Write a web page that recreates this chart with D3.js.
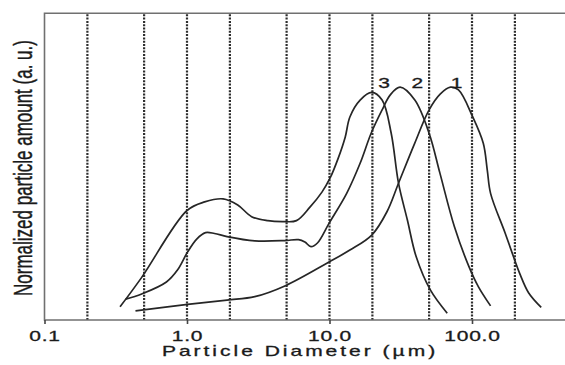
<!DOCTYPE html>
<html>
<head>
<meta charset="utf-8">
<script src="https://cdn.jsdelivr.net/npm/d3@7"></script>
<style>
  body { margin: 0; background: #fff; }
  svg { display: block; font-family: "Liberation Sans", Arial, sans-serif; }
  .lbl { fill: #1a1a1a; stroke: #1a1a1a; stroke-width: 0.3px; }
</style>
</head>
<body>
<svg width="565" height="365"></svg>
<script>
// values: [diameter in µm, normalized amount]
var curve1 = [[0.435,3.0],[1.01,5.1],[1.91,6.5],[2.99,7.6],[4.86,11.1],[9.92,18.9],[13.9,22.8],[19.8,27.7],
    [25.3,35.3],[30.5,44.6],[39.6,57.6],[50.0,68.5],[60.0,73.7],[70.6,75.9],[80.4,75.0],[101,66.3],[120,57.6],
    [128,48.9],[135,41.3],[171,28.3],[197,20.2],[216,15.2],[250,8.8],[306,4.1]];
var curve2 = [[0.371,6.8],[0.481,8.5],[0.717,12.4],[0.857,16.3],[1.01,22.2],[1.17,26.4],[1.35,28.5],[1.56,28.2],
    [1.91,27.2],[2.99,25.8],[4.86,25.9],[6.06,26.2],[6.72,25.4],[7.41,23.9],[8.23,25.1],[9.92,31.5],[13.2,41.3],
    [16.4,51.1],[19.6,60.9],[23.4,68.5],[26.7,73.4],[31.3,75.9],[39.7,71.7],[50.0,60.9],[59.6,47.8],[75.3,30.4],
    [95.2,17.4],[111,10.8],[135,4.6]];
var curve3 = [[0.339,4.3],[0.481,13.9],[1.0,35.7],[1.33,38.5],[1.79,39.5],[2.27,37.5],[2.84,33.7],[3.69,32.4],
    [4.71,32.1],[5.86,32.4],[7.29,36.8],[8.85,41.7],[10.1,46.3],[11.5,52.7],[12.9,59.7],[13.9,66.2],[16.4,71.7],
    [19.8,74.2],[23.4,71.7],[27.1,60.9],[30.5,44.6],[35.2,32.6],[40.6,20.6],[51.0,9.8],[67.0,2.2]];

var curveNames = ["1", "2", "3"];
var labelX = [77.8, 41.3, 24.2];
var labelY = 75.5;

var gridValues = [0.2, 0.5, 1, 2, 5, 10, 20, 50, 100, 200];
var tickValues = [0.1, 1, 10, 100];

var svg = d3.select("svg"),
    plotLeft = 44.5, plotTop = 13.3, plotBottom = 320,
    stretch = 1.5; // the picture is stretched sideways

var x = d3.scaleLog().domain([0.1, 1000]).range([plotLeft, plotLeft + 4 * 142.5]),
    y = d3.scaleLinear().domain([0, 100]).range([plotBottom, plotTop]);

var line = d3.line()
    .curve(d3.curveCatmullRom.alpha(0.5))
    .x(function(d) { return x(d[0]); })
    .y(function(d) { return y(d[1]); });

// dotted grid
svg.append("g")
    .selectAll("line").data(gridValues)
    .enter().append("line")
    .attr("x1", function(d) { return x(d); })
    .attr("x2", function(d) { return x(d); })
    .attr("y1", plotTop + 1)
    .attr("y2", plotBottom)
    .attr("stroke", "#2e2e2e")
    .attr("stroke-width", 2.2)
    .attr("stroke-dasharray", "2,1.3");

// frame (right side runs off the picture)
svg.append("path")
    .attr("d", "M565," + plotTop + "H" + plotLeft + "V" + plotBottom + "H565")
    .attr("fill", "none")
    .attr("stroke", "#707070")
    .attr("stroke-width", 1.6);

var xAxis = svg.append("g")
    .attr("transform", "translate(0," + plotBottom + ")")
    .call(d3.axisBottom(x)
        .tickValues(tickValues)
        .tickSize(4)
        .tickFormat(d3.format(".1f")));
xAxis.select(".domain").remove();
xAxis.selectAll("line").attr("stroke", "#444").attr("stroke-width", 1.6);
xAxis.selectAll("text")
    .attr("class", "lbl")
    .attr("y", 21)
    .attr("dy", null)
    .attr("transform", "scale(" + stretch + ",1)")
    .style("font-size", "14px")
    .style("letter-spacing", "0.5px");

svg.append("text")
    .attr("class", "lbl")
    .attr("transform", "translate(300,356) scale(" + stretch + ",1)")
    .attr("text-anchor", "middle")
    .style("font-size", "14px")
    .style("letter-spacing", "2px")
    .text("Particle Diameter (µm)");

svg.append("text")
    .attr("class", "lbl")
    .attr("transform", "translate(32,168) scale(" + stretch + ",1) rotate(-90)")
    .attr("text-anchor", "middle")
    .style("font-size", "17px")
    .text("Normalized particle amount (a. u.)");

var curves = [curve1, curve2, curve3];

svg.append("g")
    .selectAll("path").data(curves)
    .enter().append("path")
    .attr("d", line)
    .attr("fill", "none")
    .attr("stroke", "#262626")
    .attr("stroke-width", 1.7);

svg.append("g")
    .selectAll("text").data(curveNames)
    .enter().append("text")
    .attr("class", "lbl")
    .attr("transform", function(d, i) {
        return "translate(" + x(labelX[i]) + "," + y(labelY) + ") scale(" + stretch + ",1)";
    })
    .attr("text-anchor", "middle")
    .style("font-size", "14px")
    .text(function(d) { return d; });
</script>
</body>
</html>
